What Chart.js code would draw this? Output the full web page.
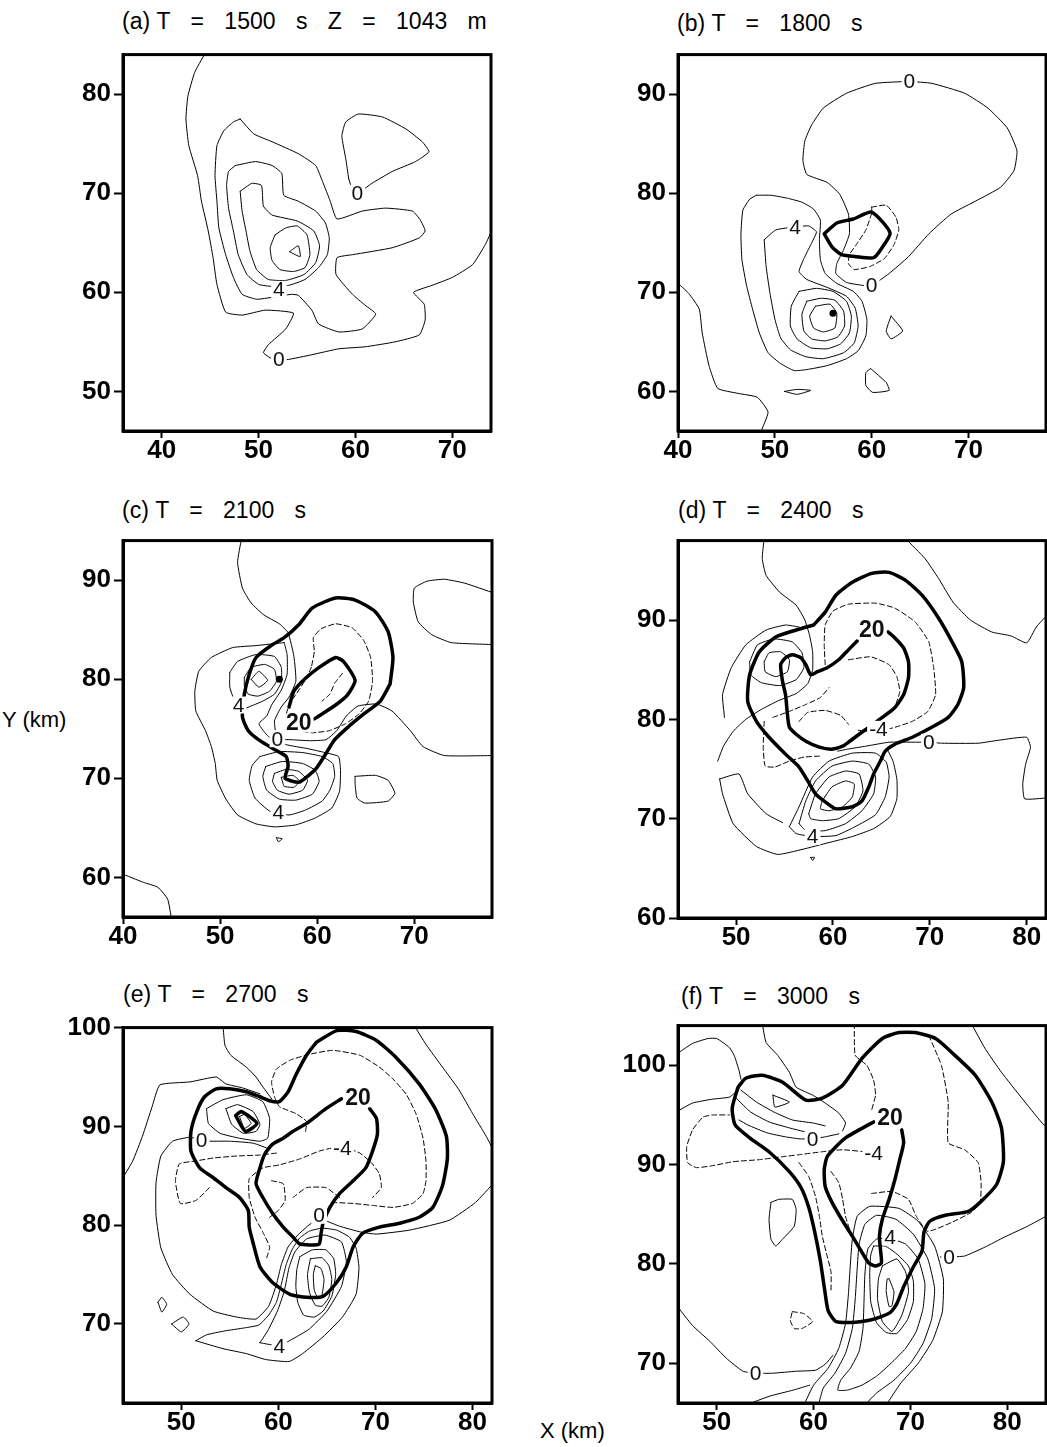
<!DOCTYPE html>
<html><head><meta charset="utf-8">
<script src="https://cdn.jsdelivr.net/npm/chart.js@4.4.1/dist/chart.umd.min.js"></script>
<style>
html,body{margin:0;padding:0;background:#fff;width:1047px;height:1447px;overflow:hidden;position:relative}
canvas{position:absolute}
.ttl{position:absolute;font-family:'Liberation Sans',Arial,sans-serif;font-size:23px;line-height:23px;word-spacing:14px;white-space:nowrap;color:#000}
.ttl span{word-spacing:0}
.axl{position:absolute;font-family:'Liberation Sans',Arial,sans-serif;font-size:22px;line-height:22px;white-space:nowrap;color:#000}
</style></head><body>
<div class="axl" style="left:2px;top:709px">Y (km)</div>
<div class="axl" style="left:540px;top:1420px">X (km)</div>
<script>
// ---------- tick values ----------
const A_XTICKS=[40,50,60,70], A_YTICKS=[50,60,70,80];
const B_XTICKS=[40,50,60,70], B_YTICKS=[60,70,80,90];
const C_XTICKS=[40,50,60,70], C_YTICKS=[60,70,80,90];
const D_XTICKS=[50,60,70,80], D_YTICKS=[60,70,80,90];
const E_XTICKS=[50,60,70,80], E_YTICKS=[70,80,90,100];
const F_XTICKS=[50,60,70,80], F_YTICKS=[70,80,90,100];

// ---------- panel (a) T=1500 s ----------
const A_ZERO_OUTER=[[44.4,84.0],[43.4,82.2],[42.7,79.8],[42.5,77.5],[42.8,74.8],[43.7,71.8],[44.1,69.2],[44.8,66.2],[45.3,63.5],[45.7,60.8],[46.6,58.0],[48.3,57.7],[50.7,58.2],[53.6,57.9],[52.8,56.3],[51.0,54.7],[50.5,53.9],[51.4,53.3],[52.9,53.2],[55.5,53.7],[58.3,54.3],[61.0,54.5],[64.1,55.0],[66.6,55.7],[67.2,57.2],[67.1,58.8],[66.0,60.0],[67.9,60.7],[70.0,61.5],[72.1,62.8],[73.4,64.8],[74.2,66.5]];
const A_ZERO_LOOP=[[59.3,71.5],[59.0,73.5],[58.6,75.8],[59.0,77.2],[60.3,78.0],[62.8,77.7],[65.2,76.5],[66.9,75.2],[67.6,74.2],[66.2,73.2],[63.8,72.2],[61.7,71.0],[60.2,70.0],[59.6,70.6]];
const A_C2=[[48.1,77.5],[47.4,77.2],[46.4,76.3],[45.7,74.8],[45.5,71.8],[45.7,69.2],[45.9,66.5],[46.6,63.8],[47.4,61.5],[48.3,59.8],[49.8,59.3],[51.4,59.5],[53.4,59.8],[54.1,59.7],[55.5,58.2],[56.2,56.8],[58.3,56.0],[60.7,56.3],[62.1,57.8],[61.0,58.7],[59.7,59.8],[58.0,61.8],[58.1,63.5],[59.7,63.8],[63.8,64.5],[66.6,65.5],[67.2,66.2],[66.7,67.3],[65.9,68.2],[63.1,68.5],[60.7,68.2],[58.1,67.4],[57.4,69.2],[56.6,71.2],[55.9,72.8],[54.1,74.0],[51.4,75.2],[49.5,76.0]];
const A_C4=[[47.6,72.8],[49.7,73.2],[51.4,72.8],[52.4,72.0],[52.6,69.8],[54.1,69.2],[55.9,68.2],[56.9,67.0],[57.3,65.5],[57.1,63.8],[56.2,62.5],[54.8,61.3],[53.1,60.7],[51.4,60.6],[50.0,60.8],[48.8,61.8],[47.9,63.8],[47.4,66.2],[46.9,68.5],[46.7,70.8],[46.9,72.2]];
const A_C6=[[48.1,70.2],[49.3,71.0],[50.3,70.8],[50.5,68.7],[51.4,67.8],[54.0,67.2],[55.7,66.2],[56.3,64.7],[55.9,63.0],[54.7,61.8],[52.8,61.2],[51.0,61.3],[49.8,62.3],[49.1,64.2],[48.7,66.2],[48.3,68.2]];
const A_C8=[[51.7,65.8],[52.8,66.5],[54.0,66.7],[55.0,65.8],[55.3,63.8],[54.8,62.5],[53.6,62.1],[52.2,62.3],[51.4,63.2],[51.2,64.5]];
const A_C10=[[53.2,64.1],[54.1,64.7],[54.3,63.6]];
const A_LABELS=[['0',60.2,70.0],['0',52.1,53.2],['4',52.1,60.3]];

// ---------- panel (b) T=1800 s ----------
const B_ZERO=[[63.9,91.3],[66.2,91.1],[69.6,90.1],[72.0,88.6],[74.0,86.6],[75.0,84.3],[74.7,82.3],[73.3,80.6],[70.9,79.3],[68.2,77.9],[65.9,75.9],[63.8,73.6],[61.8,71.9],[60.0,70.7],[59.1,70.7],[57.4,71.0],[56.3,71.9],[56.4,72.9],[57.1,74.3],[57.7,75.9],[57.6,77.9],[56.7,79.9],[55.4,81.1],[53.3,81.9],[52.9,83.3],[53.1,85.3],[53.8,86.9],[55.0,88.6],[57.4,90.1],[60.4,91.1]];
const B_ZERO_LEFT=[[39.8,71.1],[41.1,69.9],[42.2,68.3],[42.5,65.9],[43.2,62.6],[44.1,60.3],[46.2,59.8],[48.2,59.4],[49.3,57.9],[48.5,55.8]];
const B_C2=[[48.1,79.8],[49.6,79.8],[51.3,79.5],[52.8,79.1],[54.0,78.4],[54.7,77.3],[54.6,75.3],[54.7,73.3],[55.2,71.9],[56.4,70.9],[58.1,70.1],[59.0,69.1],[59.5,67.3],[59.4,65.6],[58.6,64.1],[57.4,63.3],[55.4,62.6],[53.3,62.2],[52.0,62.1],[50.6,62.8],[49.3,63.9],[48.4,65.9],[47.7,68.3],[47.1,70.6],[46.6,73.3],[46.5,75.9],[46.7,78.3],[47.4,79.4]];
const B_C4=[[48.9,75.3],[50.1,76.3],[52.1,76.6],[53.5,76.7],[54.3,76.1],[53.7,74.8],[53.0,73.4],[52.5,72.1],[53.3,71.3],[55.4,70.5],[57.4,69.6],[58.3,68.4],[58.6,66.6],[58.2,64.9],[57.1,63.9],[55.0,63.3],[53.2,63.5],[51.6,64.2],[50.6,65.4],[50.0,67.3],[49.5,69.9],[49.1,72.6]];
const B_C6=[[52.5,70.1],[54.3,70.4],[56.0,70.1],[57.4,69.1],[57.9,67.6],[57.7,65.9],[56.8,64.8],[55.4,64.3],[53.7,64.4],[52.3,65.3],[51.6,66.6],[51.7,68.6]];
const B_C8=[[53.3,69.1],[54.8,69.4],[56.2,69.2],[57.1,68.1],[57.2,66.6],[56.5,65.5],[55.2,65.1],[53.8,65.3],[53.0,66.1],[52.8,67.8]];
const B_C10=[[54.2,68.6],[55.7,68.8],[56.4,67.9],[56.2,66.4],[55.0,66.0],[54.0,66.4],[53.6,67.6]];
const B_SMALL1=[[62.0,67.6],[63.2,66.1],[62.0,65.3],[61.5,66.1]];
const B_SMALL2=[[59.9,62.3],[61.5,60.9],[61.8,60.1],[60.1,59.9],[59.4,60.6],[59.4,61.9]];
const B_SMALL3=[[51.0,60.0],[52.3,60.2],[53.7,60.1],[52.3,59.7]];
const B_NEG=[[60.0,78.6],[61.5,78.8],[62.5,77.6],[62.8,76.3],[62.3,74.8],[61.3,73.4],[59.8,72.6],[58.2,72.3],[57.6,72.9],[57.7,73.8],[58.4,74.8],[59.4,76.3],[60.0,78.0]];
const B_THICK=[[55.1,75.9],[56.4,77.0],[58.1,77.4],[60.0,78.1],[61.9,76.0],[61.0,74.4],[60.2,73.5],[58.4,73.6],[56.9,73.8],[55.9,74.6]];
const B_LABELS=[['0',63.9,91.3],['0',60.0,70.7],['4',52.1,76.6]];
const B_DOTS=[[56.0,67.9]];

// ---------- panel (c) T=2100 s ----------
const C_ZERO=[[52.2,94.2],[51.8,91.8],[52.3,89.2],[53.2,87.7],[54.5,86.5],[56.1,85.6],[57.0,84.7],[57.6,82.3],[57.8,79.8],[57.1,78.2],[56.3,77.2],[55.6,75.8],[55.9,74.0],[57.3,73.9],[59.2,73.8],[60.9,73.9],[62.0,74.8],[63.0,76.3],[64.2,77.3],[66.1,77.5],[67.7,76.8],[69.6,74.8],[70.9,73.2],[73.1,72.3],[78.2,72.3]];
const C_ZERO_RIGHT=[[78.2,88.7],[75.2,89.7],[73.1,90.1],[71.3,89.9],[70.0,89.2],[69.9,87.8],[70.4,85.8],[71.8,84.5],[73.8,83.7],[78.2,83.5]];
const C_ZERO_BL=[[39.8,60.4],[42.1,59.5],[43.6,59.0],[44.6,57.8],[45.0,55.8]];
const C_LOOP_R=[[63.9,70.2],[66.0,70.3],[67.3,69.8],[68.0,68.5],[67.3,67.7],[64.9,67.5],[64.1,68.0],[63.9,69.5]];
const C_TINY=[[55.8,64.0],[56.4,63.9],[56.0,63.6]];
const C_C2=[[56.6,83.7],[53.7,83.4],[51.3,83.2],[49.1,82.2],[47.8,80.8],[47.4,78.8],[47.5,76.8],[48.5,74.8],[49.1,73.2],[49.5,71.5],[49.7,69.8],[50.6,67.9],[51.8,66.3],[53.7,65.4],[55.6,65.1],[57.8,65.3],[59.8,66.0],[61.5,67.0],[62.3,68.7],[62.4,70.8],[62.2,72.2],[60.8,72.6],[59.0,73.0],[56.8,73.4],[55.0,74.2],[54.0,75.5],[54.8,76.3],[55.3,77.4],[56.3,78.9],[56.9,80.5],[56.9,82.5]];
const C_UP1=[[51.0,80.7],[51.8,81.8],[53.7,82.5],[55.6,82.3],[56.3,81.2],[56.3,79.7],[55.6,78.5],[54.4,77.8],[53.2,77.3],[52.3,77.0],[51.5,77.8],[51.0,79.2]];
const C_UP2=[[52.5,80.2],[53.2,81.2],[54.6,81.5],[55.6,81.0],[55.8,79.8],[55.1,78.8],[53.9,78.3],[52.9,78.5],[52.5,79.3]];
const C_UP3=[[53.2,80.0],[54.0,80.8],[54.9,79.9],[54.0,79.2]];
const C_LO1=[[54.1,72.2],[56.1,72.7],[58.5,72.6],[60.5,72.2],[61.6,71.5],[61.8,70.2],[61.3,68.8],[60.5,67.7],[58.8,66.8],[57.1,66.3],[55.1,66.7],[53.6,68.0],[53.0,69.8],[53.3,71.3]];
const C_LO2=[[54.7,71.2],[56.4,71.7],[58.5,71.5],[59.8,70.8],[60.2,69.7],[59.5,68.4],[57.8,67.8],[56.1,67.9],[54.8,68.8],[54.4,70.2]];
const C_LO3=[[55.6,70.5],[56.8,70.9],[58.1,70.7],[59.0,69.8],[58.5,68.8],[57.1,68.4],[55.9,68.8],[55.4,69.7]];
const C_LO4=[[56.3,70.1],[57.5,70.3],[58.2,69.7],[57.6,69.1],[56.6,69.2]];
const C_NEG1=[[59.4,81.2],[58.7,79.8],[57.9,78.6],[57.2,77.6],[56.8,76.4],[57.2,75.3],[58.2,74.8],[59.5,74.6],[61.2,74.8],[62.9,75.5],[64.3,76.5],[65.3,77.8],[65.7,79.8],[65.5,82.2],[64.8,83.9],[63.6,85.2],[61.9,85.6],[60.4,85.1],[59.6,84.2],[59.7,82.8]];
const C_NEG2=[[62.6,80.6],[61.8,79.6],[61.3,78.5],[60.5,77.8]];
const C_THICK_OUT=[[67.5,79.5],[66.5,77.8],[64.8,76.5],[63.2,75.2],[61.8,73.9],[60.9,72.5],[59.9,71.0],[59.0,70.2],[58.1,69.6],[56.7,70.0],[57.0,71.2],[56.8,72.2],[55.8,72.8],[54.1,73.8],[52.9,74.8],[52.3,76.2],[52.5,78.5],[53.0,80.5],[53.7,82.2],[55.4,83.5],[56.6,84.2],[58.1,85.5],[59.5,87.2],[61.9,88.2],[63.9,88.0],[66.0,86.8],[67.3,84.8],[67.8,82.2]];
const C_THICK_IN=[[57.1,77.2],[57.6,78.8],[58.8,80.1],[60.2,81.2],[61.9,82.2],[62.7,81.8],[63.9,79.9],[63.1,78.4],[61.9,77.4],[60.5,76.5],[59.7,76.0]];
const C_LABELS=[['0',55.9,74.0],['4',56.0,66.6],['4',51.9,77.4]];
const C_BOLD=[['20',58.1,75.6]];
const C_DOTS=[[56.1,80.0]];

// ---------- panel (d) T=2400 s ----------
const D_THICK_OUT=[[58.0,89.5],[59.2,90.8],[60.3,92.5],[62.0,93.8],[64.0,94.7],[65.8,94.8],[67.5,94.0],[69.2,92.5],[70.9,90.2],[72.3,87.8],[73.3,85.8],[73.5,83.2],[72.9,81.5],[71.9,80.2],[70.2,79.2],[68.2,78.2],[66.4,77.5],[65.4,76.8],[64.9,75.8],[64.2,74.5],[63.7,73.2],[63.0,71.8],[62.0,71.2],[60.3,71.0],[59.2,71.7],[58.2,72.5],[57.4,73.8],[56.5,75.2],[55.1,76.5],[53.4,78.2],[52.1,79.8],[51.2,81.8],[51.4,84.5],[52.4,86.8],[54.1,88.3],[56.2,89.0]];
const D_THICK_IN=[[65.7,88.8],[66.4,88.2],[67.3,87.2],[67.8,85.8],[67.8,84.2],[67.3,82.5],[66.4,81.2],[65.1,80.2],[63.7,79.2],[62.7,78.5],[61.6,77.7],[61.0,77.3],[59.9,77.0],[58.6,77.2],[57.2,77.8],[56.2,78.5],[55.5,79.2],[55.3,80.5],[55.1,82.5],[54.8,83.8],[54.6,85.5],[55.1,86.2],[55.8,86.5],[56.7,86.2],[57.2,85.5],[57.7,84.5],[58.4,84.8],[59.4,85.2],[60.6,86.0],[61.6,87.0],[62.5,87.9]];
const D_ZERO_TOP=[[52.9,98.2],[52.7,96.2],[53.1,94.5],[54.5,92.8],[56.2,91.5],[57.1,90.0],[57.6,88.4],[57.9,86.8],[57.9,85.0],[57.4,83.6],[56.2,82.6],[54.4,81.9],[52.6,81.0],[51.0,80.0],[49.7,78.8],[48.7,77.3],[48.1,75.8]];
const D_ZERO_MID=[[60.5,76.8],[61.5,77.0],[63.4,77.3],[65.8,77.7],[68.5,77.7],[69.9,77.7],[71.2,77.6],[75.0,77.6],[77.1,77.9],[80.0,78.2],[80.4,77.2],[79.9,75.5],[79.6,73.5],[79.8,72.0],[82.2,72.1]];
const D_TOPRIGHT=[[67.5,98.2],[69.5,96.2],[70.9,94.2],[72.4,91.8],[74.2,90.0],[76.4,88.8],[78.4,88.4],[80.0,87.7],[81.0,89.3],[82.2,90.6]];
const D_UP1=[[52.9,85.8],[53.4,86.7],[54.6,86.8],[55.5,86.0],[55.3,84.8],[54.1,84.3],[53.0,84.8]];
const D_UP2=[[51.4,85.8],[52.2,87.5],[53.9,88.1],[55.8,87.8],[56.8,86.7],[57.0,85.2],[56.2,84.0],[54.5,83.4],[52.6,83.7],[51.5,84.5]];
const D_UP3=[[48.8,80.2],[48.6,82.5],[49.5,85.2],[51.0,87.5],[53.1,89.0],[55.1,89.5],[56.5,89.3]];
const D_LL1=[[48.3,74.0],[50.3,74.5],[51.2,72.5],[53.1,70.5],[54.8,69.6]];
const D_LL2=[[48.3,74.0],[48.6,72.5],[49.7,69.5],[52.1,67.2],[54.3,66.4],[56.8,66.9],[59.6,67.6],[62.0,68.2],[64.2,69.0],[65.9,70.2],[66.6,72.0],[66.6,74.0],[66.2,75.8],[65.6,77.0]];
const D_LO1=[[58.9,71.8],[59.9,73.2],[61.3,73.8],[62.2,73.5],[62.0,72.2],[61.0,71.2],[59.6,70.8],[58.7,71.0]];
const D_LO2=[[57.5,70.5],[58.2,72.5],[59.6,74.2],[61.3,74.8],[62.7,74.5],[63.1,72.8],[62.3,71.2],[60.6,70.0],[58.9,69.8],[57.7,70.0]];
const D_LO3=[[56.5,69.5],[57.2,71.8],[58.2,73.8],[59.9,75.3],[62.0,75.8],[63.7,75.5],[64.4,74.2],[64.2,72.5],[63.0,70.8],[61.3,69.5],[59.2,68.8],[57.2,68.8]];
const D_LO4=[[55.5,69.2],[56.5,71.2],[57.9,74.2],[59.6,75.8],[62.0,76.6],[64.4,76.6],[65.5,75.7],[65.8,74.2],[65.4,72.2],[64.4,70.4],[62.3,69.2],[60.3,68.3],[57.9,68.2],[56.2,68.5]];
const D_TINY=[[57.7,66.1],[58.1,66.1],[57.9,65.8]];
const D_NEG1=[[59.2,85.5],[59.1,87.5],[59.2,89.5],[60.0,90.9],[61.6,91.6],[64.4,91.7],[66.4,91.2],[68.5,89.8],[69.9,87.8],[70.4,85.2],[70.6,82.5],[69.8,80.8],[68.2,79.8],[66.4,79.2],[65.1,78.9],[63.6,78.8],[62.6,78.9]];
const D_NEG2=[[52.9,79.8],[52.8,77.2],[53.0,75.3],[54.0,75.2],[55.5,75.8],[57.0,76.2],[58.6,76.3]];
const D_NEG3=[[56.5,79.8],[57.4,80.7],[59.2,80.9],[60.8,80.4],[61.6,79.5]];
const D_NEG4=[[61.6,86.0],[63.9,86.3],[65.8,85.5],[66.6,84.3],[66.9,82.8],[66.5,81.5]];
const D_NEG5=[[53.8,80.2],[55.5,80.8],[57.2,81.5],[58.7,82.2],[59.6,83.2]];
const D_LABELS=[['0',69.9,77.7],['4',57.9,68.2],['-4',64.7,79.0]];
const D_BOLD=[['20',64.0,89.0]];

// ---------- panel (e) T=2700 s ----------
const E_THICK_OUT=[[63.9,98.5],[62.9,97.2],[61.8,95.2],[61.0,93.5],[60.1,92.5],[59.1,92.6],[58.1,93.0],[56.7,93.5],[55.0,93.8],[53.6,93.8],[52.4,93.0],[51.6,91.5],[51.0,89.5],[51.0,87.5],[51.9,85.8],[53.3,84.8],[54.6,83.8],[56.0,82.8],[56.9,81.5],[57.0,79.8],[57.4,78.2],[58.1,75.8],[59.4,74.2],[61.2,73.0],[62.9,72.7],[64.6,72.8],[66.0,74.2],[67.0,75.8],[67.7,77.8],[68.7,79.2],[70.4,79.8],[72.5,80.2],[74.5,80.8],[75.9,81.8],[76.9,84.0],[77.4,86.7],[77.3,89.0],[76.2,91.7],[74.5,94.3],[72.1,97.0],[70.1,98.7],[68.0,99.6],[66.0,99.7]];
const E_THICK_IN=[[66.5,92.8],[64.9,91.8],[62.9,90.3],[61.5,89.5],[60.5,88.8],[59.4,88.2],[58.6,87.2],[58.1,85.8],[57.7,84.2],[58.4,82.8],[59.4,81.2],[60.5,79.8],[61.5,78.8],[62.2,78.1],[63.2,78.0],[64.2,78.1],[64.4,79.2],[64.6,80.2],[65.3,81.8],[66.3,83.2],[67.7,84.5],[69.0,85.8],[69.7,87.5],[70.2,89.2],[70.1,90.8],[69.4,91.8]];
const E_THICK_DIA=[[55.6,91.1],[56.2,91.5],[57.8,90.3],[56.6,89.5]];
const E_UP0=[[56.0,91.0],[56.5,91.2],[57.2,90.3],[56.5,89.8]];
const E_UP1=[[54.6,91.8],[55.8,92.2],[57.4,91.5],[58.1,90.2],[57.7,89.5],[56.4,89.3],[55.2,90.2]];
const E_UP2=[[52.6,91.8],[54.3,92.7],[56.7,93.2],[58.4,92.5],[59.1,90.8],[58.9,88.8],[58.1,88.5],[56.0,88.8],[54.0,89.3],[52.8,90.3]];
const E_OUTER_TL=[[43.8,84.5],[45.0,86.5],[46.0,89.0],[47.0,92.0],[47.8,94.2],[50.9,94.5],[53.6,95.0],[54.6,94.3],[56.3,93.9],[58.1,93.3]];
const E_TOP=[[54.3,100.2],[54.5,98.2],[55.1,97.2],[56.7,96.0],[57.7,95.0],[58.4,94.0],[59.3,92.8]];
const E_TOPRIGHT=[[74.0,100.2],[75.2,98.3],[76.9,96.0],[78.6,93.7],[80.0,91.3],[81.4,89.0],[82.2,87.5]];
const E_ZERO=[[59.1,87.7],[57.4,88.3],[55.0,88.5],[52.9,88.5],[52.1,88.6],[50.9,88.9],[49.1,88.5],[47.9,87.0],[47.4,84.3],[47.4,81.0],[47.9,77.7],[49.1,75.0],[50.9,73.0],[53.3,71.3],[55.7,70.7],[57.7,70.5],[59.0,71.8],[59.8,74.0],[60.3,76.0],[61.0,77.8],[62.0,79.0],[63.0,79.9],[63.8,80.5],[64.2,81.0],[64.8,80.5],[66.3,79.9],[68.5,79.3],[70.1,79.1],[73.5,79.5],[77.6,80.5],[80.3,82.3],[82.2,84.3]];
const E_LO1=[[63.8,75.9],[64.4,75.6],[64.7,74.5],[64.5,73.0],[64.1,72.6],[63.7,73.4],[63.6,75.0]];
const E_LO2=[[63.3,76.6],[64.5,76.7],[65.2,75.9],[65.5,74.5],[65.2,72.7],[64.5,71.8],[63.8,71.9],[63.2,73.2],[63.0,75.0]];
const E_LO3=[[62.2,76.8],[63.5,77.5],[64.9,77.5],[65.7,76.6],[65.9,75.0],[65.5,72.8],[64.6,71.3],[63.7,70.7],[62.6,70.9],[62.0,72.2],[61.8,73.8],[61.9,75.5]];
const E_LO4=[[58.1,68.1],[60.1,67.8],[61.5,68.5],[63.2,69.5],[65.0,71.3],[66.5,73.8],[67.0,76.3],[66.5,78.3],[64.8,79.0],[62.9,78.6],[61.7,77.3],[61.1,75.7],[60.6,73.3],[59.9,71.3],[58.9,69.3]];
const E_LO5=[[51.5,68.3],[54.3,67.5],[56.7,67.0],[58.7,66.4],[61.1,66.2],[62.5,67.0],[64.6,68.7],[66.6,70.7],[68.0,73.0],[68.3,75.7],[68.0,77.7],[67.3,78.8],[66.0,79.5],[64.5,79.7],[63.2,79.4],[62.2,78.7],[61.4,77.5],[60.8,76.0],[60.3,74.0],[59.8,72.2],[59.0,70.9],[58.0,69.9],[56.5,69.6],[54.5,69.3],[52.6,68.9]];
const E_NEG1=[[62.8,89.5],[62.9,90.5],[61.8,91.3],[60.1,92.0],[59.6,93.0],[59.3,94.5],[59.8,95.8],[61.2,96.7],[63.2,97.3],[65.6,97.7],[68.4,97.2],[70.4,96.0],[71.8,94.8],[73.2,93.2],[74.2,91.2],[74.9,88.8],[75.2,86.5],[75.2,84.5],[74.9,83.2],[73.8,82.2],[71.8,81.8],[69.7,82.0],[67.7,82.2],[65.6,82.3]];
const E_NEG2=[[58.8,76.7],[59.1,77.8],[58.4,79.3],[57.6,80.8],[57.0,82.8],[57.0,84.7],[58.4,85.8],[60.1,86.1],[62.2,86.7],[64.2,87.5],[65.5,87.8],[66.6,87.8],[67.6,87.6],[68.4,87.3],[69.6,86.3],[70.4,85.2],[70.6,83.8],[69.7,82.8]];
const E_NEG3=[[59.8,87.3],[58.1,87.1],[55.7,87.0],[53.3,86.8],[51.5,86.5],[49.8,86.2],[49.4,84.5],[49.9,82.2],[51.5,82.5],[52.9,83.8]];
const E_NEG4=[[59.3,84.5],[60.5,84.2],[60.7,82.5],[60.0,81.5],[59.1,80.8]];
const E_NEG5=[[61.5,82.8],[62.9,83.8],[64.9,83.8],[66.3,82.8]];
const E_DIA1=[[47.6,72.2],[48.0,72.7],[48.5,72.0],[48.0,71.2]];
const E_DIA2=[[49.0,70.0],[50.2,70.7],[50.8,70.0],[50.0,69.2]];
const E_LABELS=[['0',52.1,88.6],['0',64.2,81.0],['4',60.1,67.7],['-4',66.6,87.8]];
const E_BOLD=[['20',68.2,92.9]];

// ---------- panel (f) T=3000 s ----------
const F_THICK_OUT=[[52.2,97.8],[53.0,98.7],[54.7,99.0],[56.8,98.3],[59.2,96.5],[60.9,96.7],[63.0,98.0],[65.0,100.7],[67.1,102.7],[68.8,103.3],[70.5,103.3],[72.6,102.7],[74.6,101.0],[76.7,99.0],[78.4,96.3],[79.4,93.7],[79.6,90.3],[78.9,88.0],[77.3,86.3],[76.0,85.3],[73.6,84.9],[72.0,84.3],[71.4,83.2],[71.2,81.3],[70.3,79.7],[69.3,77.7],[68.6,76.0],[67.9,75.1],[66.4,74.5],[65.0,74.2],[63.7,74.1],[62.3,74.2],[61.5,75.3],[61.1,77.7],[60.7,80.3],[60.1,83.3],[59.5,85.7],[58.7,87.7],[57.5,89.3],[55.4,91.3],[53.4,92.7],[51.9,94.0],[51.6,95.7]];
const F_THICK_IN=[[66.2,94.3],[64.7,93.5],[63.3,92.7],[62.3,91.8],[61.4,90.8],[61.1,89.5],[61.2,87.8],[61.9,86.2],[62.9,84.5],[64.0,82.8],[64.8,81.5],[65.7,80.1],[66.4,79.8],[67.0,80.1],[66.9,81.5],[66.8,82.8],[67.1,84.5],[67.8,86.5],[68.4,88.5],[68.9,90.5],[69.3,92.2],[69.1,93.5]];
const F_NEG1=[[64.2,104.2],[64.3,101.0],[65.5,100.0],[66.2,98.5],[66.4,97.0],[66.0,95.5]];
const F_NEG2=[[71.9,103.0],[73.2,100.0],[73.9,96.3],[73.9,92.2],[75.6,91.5],[77.0,90.2],[77.3,88.2],[77.2,86.2],[76.3,85.2],[74.3,84.2],[72.6,83.5],[71.7,83.3],[70.6,84.8],[69.8,86.5],[68.1,87.3],[66.0,87.1]];
const F_NEG3=[[66.2,91.2],[63.0,91.5],[60.9,91.3],[58.5,91.0],[56.8,90.8],[54.4,90.5],[51.7,90.3],[49.6,89.9],[47.9,89.7],[47.0,90.2],[46.9,91.8],[47.5,93.5],[48.6,94.8],[49.6,95.0],[51.3,95.0]];
const F_NEG4=[[58.5,90.2],[59.5,88.8],[60.2,86.8],[60.6,84.8],[60.9,82.8],[61.4,80.8],[61.8,79.2],[61.8,77.2]];
const F_NEG5=[[61.8,89.3],[62.6,88.2],[63.0,86.5],[63.3,84.8],[63.8,83.2]];
const F_NEG6=[[57.8,75.2],[59.0,75.0],[59.9,74.2],[58.8,73.5],[58.0,73.5],[57.6,74.3]];
const F_UP1=[[55.8,97.0],[57.5,96.3],[56.0,95.8]];
const F_UP2=[[52.5,97.5],[54.1,96.3],[55.9,95.3],[57.8,94.5],[59.9,94.2],[61.2,93.9]];
const F_UP3=[[52.0,96.7],[53.5,95.3],[55.4,94.3],[57.5,93.7],[59.2,93.3],[60.6,93.3]];
const F_ZERO_UP=[[52.3,94.5],[53.2,94.0],[55.2,93.2],[57.1,92.8],[58.5,92.6],[59.9,92.6],[61.2,92.8],[62.6,93.1]];
const F_LEFT1=[[45.8,95.3],[47.5,96.2],[49.6,96.6],[51.3,96.8],[52.3,97.6]];
const F_TOPLEFT=[[45.8,101.1],[47.5,102.2],[49.1,102.7],[50.0,102.7],[51.3,101.8],[51.8,101.0],[52.3,99.5],[52.5,98.6]];
const F_TOP=[[54.7,104.2],[55.1,102.3],[56.3,101.0],[57.5,99.3],[58.2,97.8],[59.9,97.0],[61.2,96.2],[62.6,95.2],[63.3,94.2],[63.0,93.4]];
const F_TOPRIGHT=[[76.3,104.2],[77.7,101.7],[79.4,99.3],[81.5,96.7],[83.5,94.3],[84.2,93.6]];
const F_ZERO_R=[[73.1,80.7],[74.0,80.7],[75.6,80.8],[77.7,81.7],[79.7,82.7],[82.1,83.8],[84.2,84.9]];
const F_ZERO_LL=[[45.8,75.9],[47.5,73.8],[49.3,72.2],[51.0,70.5],[52.7,69.2],[54.0,69.0],[55.8,69.0],[58.2,69.2],[60.2,69.3],[61.2,69.9],[62.0,70.8]];
const F_LO1=[[67.8,78.5],[68.3,77.2],[68.1,75.8],[67.8,75.7],[67.5,77.2],[67.6,78.5]];
const F_LO2=[[67.1,79.8],[68.6,80.5],[69.5,79.2],[69.8,77.2],[69.1,74.8],[68.1,73.2],[67.1,74.2],[66.6,76.5],[66.7,78.5]];
const F_LO3=[[66.2,81.8],[67.4,81.8],[68.6,81.0],[69.8,79.8],[70.3,78.3],[70.3,76.2],[69.7,74.4],[68.6,73.0],[67.5,73.1],[66.5,74.1],[65.9,76.2],[65.8,79.0],[65.9,80.9]];
const F_LO4=[[67.8,82.6],[69.5,82.0],[70.8,80.5],[71.5,78.0],[71.3,75.5],[70.6,73.2],[69.5,71.5],[68.0,70.0],[66.5,68.7],[65.0,67.8],[63.5,67.3],[62.5,67.3],[62.8,68.3],[63.8,69.5],[64.7,71.2],[65.1,73.5],[65.2,76.0],[65.3,79.0],[65.6,81.5],[66.5,82.5]];
const F_LO5=[[60.5,65.8],[61.0,67.5],[62.2,69.0],[63.3,71.0],[64.0,73.5],[64.3,76.5],[64.5,79.5],[64.7,82.0],[65.3,84.0],[66.5,84.9],[68.5,84.5],[70.3,83.0],[71.8,80.5],[72.5,77.5],[72.2,74.5],[71.3,72.0],[70.0,70.0],[68.3,68.3],[66.5,67.0],[65.3,65.8]];
const F_LO6=[[59.0,65.8],[60.0,67.8],[61.5,69.5],[62.6,71.5],[63.3,74.0],[63.6,77.0],[63.8,80.0],[64.0,82.5],[64.5,84.8],[65.8,85.8],[68.8,85.6],[70.8,84.3],[72.5,81.8],[73.4,78.5],[73.3,75.2],[72.3,72.3],[70.8,70.0],[69.0,68.0],[67.5,65.8]];
const F_LOOP=[[55.6,86.2],[56.4,86.5],[57.8,86.5],[58.2,85.5],[58.0,83.8],[56.8,82.5],[56.1,81.8],[55.6,82.5],[55.4,84.5]];
const F_BOTTOM=[[53.0,65.8],[55.5,66.7],[57.9,67.3],[59.6,67.8]];
const F_LABELS=[['0',59.9,92.6],['-4',66.2,91.2],['4',67.9,82.7],['0',74.0,80.7],['0',54.0,69.0]];
const F_BOLD=[['20',67.9,94.7]];

// ---------- styles & layout (not data) ----------
const STYLES={thin:{w:1,dash:[],t:0.15},dash:{w:1,dash:[5,3],t:0.15},thick:{w:3.5,dash:[],t:0.2}};
const PANELS=[
 {left:123,top:52,w:368,h:379,xr:[36,74],yr:[46,84],xt:A_XTICKS,yt:A_YTICKS,tag:'(a) ',title:'T = 1500 s Z = 1043 m',tl:122,tt:10,
  lines:[[A_ZERO_OUTER,'thin',0],[A_ZERO_LOOP,'thin',1],[A_C2,'thin',1],[A_C4,'thin',1],[A_C6,'thin',1],[A_C8,'thin',1],[A_C10,'thin',1]],
  labels:A_LABELS,bold:[],dots:[]},
 {left:678,top:52,w:368,h:379,xr:[40,78],yr:[56,94],xt:B_XTICKS,yt:B_YTICKS,tag:'(b) ',title:'T = 1800 s',tl:677,tt:12,
  lines:[[B_ZERO,'thin',1],[B_ZERO_LEFT,'thin',0],[B_C2,'thin',1],[B_C4,'thin',1],[B_C6,'thin',1],[B_C8,'thin',1],[B_C10,'thin',1],[B_SMALL1,'thin',1],[B_SMALL2,'thin',1],[B_SMALL3,'thin',1],[B_NEG,'dash',1],[B_THICK,'thick',1]],
  labels:B_LABELS,bold:[],dots:B_DOTS},
 {left:123,top:538,w:369,h:379,xr:[40,78],yr:[56,94],xt:C_XTICKS,yt:C_YTICKS,tag:'(c) ',title:'T = 2100 s',tl:122,tt:499,
  lines:[[C_ZERO,'thin',0],[C_ZERO_RIGHT,'thin',0],[C_ZERO_BL,'thin',0],[C_LOOP_R,'thin',1],[C_TINY,'thin',1],[C_C2,'thin',1],[C_UP1,'thin',1],[C_UP2,'thin',1],[C_UP3,'thin',1],[C_LO1,'thin',1],[C_LO2,'thin',1],[C_LO3,'thin',1],[C_LO4,'thin',1],[C_NEG1,'dash',1],[C_NEG2,'dash',0],[C_THICK_OUT,'thick',1],[C_THICK_IN,'thick',0]],
  labels:C_LABELS,bold:C_BOLD,dots:C_DOTS},
 {left:678,top:538,w:368,h:380,xr:[44,82],yr:[60,98],xt:D_XTICKS,yt:D_YTICKS,tag:'(d) ',title:'T = 2400 s',tl:678,tt:499,
  lines:[[D_ZERO_TOP,'thin',0],[D_ZERO_MID,'thin',0],[D_TOPRIGHT,'thin',0],[D_UP1,'thin',1],[D_UP2,'thin',1],[D_UP3,'thin',0],[D_LL1,'thin',0],[D_LL2,'thin',0],[D_LO1,'thin',1],[D_LO2,'thin',1],[D_LO3,'thin',1],[D_LO4,'thin',1],[D_TINY,'thin',1],[D_NEG1,'dash',0],[D_NEG2,'dash',0],[D_NEG3,'dash',0],[D_NEG4,'dash',0],[D_NEG5,'dash',0],[D_THICK_OUT,'thick',1],[D_THICK_IN,'thick',0]],
  labels:D_LABELS,bold:D_BOLD,dots:[]},
 {left:123,top:1025,w:369,h:378,xr:[44,82],yr:[62,100],xt:E_XTICKS,yt:E_YTICKS,tag:'(e) ',title:'T = 2700 s',tl:123,tt:983,
  lines:[[E_UP0,'thin',1],[E_UP1,'thin',1],[E_UP2,'thin',1],[E_OUTER_TL,'thin',0],[E_TOP,'thin',0],[E_TOPRIGHT,'thin',0],[E_ZERO,'thin',0],[E_LO1,'thin',1],[E_LO2,'thin',1],[E_LO3,'thin',1],[E_LO4,'thin',1],[E_LO5,'thin',1],[E_DIA1,'thin',1],[E_DIA2,'thin',1],[E_NEG1,'dash',0],[E_NEG2,'dash',0],[E_NEG3,'dash',0],[E_NEG4,'dash',0],[E_NEG5,'dash',0],[E_THICK_OUT,'thick',1],[E_THICK_IN,'thick',0],[E_THICK_DIA,'thick',1]],
  labels:E_LABELS,bold:E_BOLD,dots:[]},
 {left:678,top:1023,w:368,h:380,xr:[46,84],yr:[66,104],xt:F_XTICKS,yt:F_YTICKS,tag:'(f) ',title:'T = 3000 s',tl:681,tt:985,
  lines:[[F_UP1,'thin',1],[F_UP2,'thin',0],[F_UP3,'thin',0],[F_ZERO_UP,'thin',0],[F_LEFT1,'thin',0],[F_TOPLEFT,'thin',0],[F_TOP,'thin',0],[F_TOPRIGHT,'thin',0],[F_ZERO_R,'thin',0],[F_ZERO_LL,'thin',0],[F_LO1,'thin',1],[F_LO2,'thin',1],[F_LO3,'thin',1],[F_LO4,'thin',1],[F_LO5,'thin',0],[F_LO6,'thin',0],[F_LOOP,'thin',1],[F_BOTTOM,'thin',0],[F_NEG1,'dash',0],[F_NEG2,'dash',0],[F_NEG3,'dash',0],[F_NEG4,'dash',0],[F_NEG5,'dash',0],[F_NEG6,'dash',1],[F_THICK_OUT,'thick',1],[F_THICK_IN,'thick',0]],
  labels:F_LABELS,bold:F_BOLD,dots:[]}
];

const FONT='"Liberation Sans", Arial, sans-serif';
const PAD_L=90, PAD_T=16, PAD_R=12, PAD_B=50;

const overlayPlugin={
  id:'overlay',
  afterDatasetsDraw(chart){
    const p=chart.config.options.plugins.overlay.panel;
    const ctx=chart.ctx, xs=chart.scales.x, ys=chart.scales.y, ca=chart.chartArea;
    ctx.save();
    ctx.beginPath(); ctx.rect(ca.left,ca.top,ca.width,ca.height); ctx.clip();
    ctx.textAlign='center'; ctx.textBaseline='middle';
    const drawLab=(arr,font,bh)=>{
      ctx.font=font;
      arr.forEach(([t,x,y])=>{
        const px=xs.getPixelForValue(x), py=ys.getPixelForValue(y);
        const w=ctx.measureText(t).width;
        ctx.fillStyle='#fff'; ctx.fillRect(px-w/2-2,py-bh/2,w+4,bh);
        ctx.fillStyle='#111'; ctx.fillText(t,px,py+1);
      });
    };
    drawLab(p.labels,'21px '+FONT,17);
    drawLab(p.bold,'bold 23px '+FONT,19);
    ctx.fillStyle='#000';
    p.dots.forEach(([x,y])=>{ctx.beginPath();ctx.arc(xs.getPixelForValue(x),ys.getPixelForValue(y),3.5,0,Math.PI*2);ctx.fill();});
    ctx.restore();
  },
  afterDraw(chart){
    const ctx=chart.ctx, ca=chart.chartArea;
    ctx.save(); ctx.strokeStyle='#000'; ctx.lineWidth=3;
    ctx.strokeRect(ca.left,ca.top,ca.width,ca.height);
    ctx.restore();
  }
};

PANELS.forEach(p=>{
  const t=document.createElement('div'); t.className='ttl';
  const sp=document.createElement('span'); sp.textContent=p.tag; t.appendChild(sp);
  t.appendChild(document.createTextNode(p.title));
  t.style.left=p.tl+'px'; t.style.top=p.tt+'px'; document.body.appendChild(t);
  const cv=document.createElement('canvas');
  cv.width=p.w+PAD_L+PAD_R; cv.height=p.h+PAD_T+PAD_B;
  cv.style.width=cv.width+'px'; cv.style.height=cv.height+'px';
  cv.style.left=(p.left-PAD_L)+'px'; cv.style.top=(p.top-PAD_T)+'px';
  document.body.appendChild(cv);
  const datasets=p.lines.map(([pts,s,closed])=>{
    const arr=closed?pts.concat([pts[0]]):pts;
    const st=STYLES[s];
    return {data:arr.map(q=>({x:q[0],y:q[1]})),showLine:true,pointRadius:0,pointHoverRadius:0,
      borderColor:'#000',backgroundColor:'#000',borderWidth:st.w,borderDash:st.dash,tension:st.t,fill:false,
      borderCapStyle:'round',borderJoinStyle:'round'};
  });
  const tickFont={family:FONT,weight:'bold',size:26};
  new Chart(cv,{type:'scatter',data:{datasets},
    options:{responsive:false,animation:false,devicePixelRatio:1,
      layout:{padding:{left:0,top:PAD_T,right:PAD_R,bottom:0}},
      plugins:{legend:{display:false},tooltip:{enabled:false},overlay:{panel:p}},
      events:[],
      scales:{
        x:{type:'linear',min:p.xr[0],max:p.xr[1],
          afterBuildTicks:s=>{s.ticks=p.xt.map(v=>({value:v}));},
          afterFit:s=>{s.height=PAD_B;},
          grid:{display:true,drawOnChartArea:false,drawTicks:true,tickLength:7,tickWidth:2,tickColor:'#000',color:'#000'},
          border:{display:true,width:3,color:'#000'},
          ticks:{font:tickFont,color:'#000',padding:-3,maxRotation:0,autoSkip:false}},
        y:{type:'linear',min:p.yr[0],max:p.yr[1],
          afterBuildTicks:s=>{s.ticks=p.yt.map(v=>({value:v}));},
          afterFit:s=>{s.width=PAD_L;},
          grid:{display:true,drawOnChartArea:false,drawTicks:true,tickLength:9,tickWidth:2,tickColor:'#000',color:'#000'},
          border:{display:true,width:3,color:'#000'},
          ticks:{font:tickFont,color:'#000',padding:3,autoSkip:false}}
      }},
    plugins:[overlayPlugin]});
});
</script>
</body></html>
